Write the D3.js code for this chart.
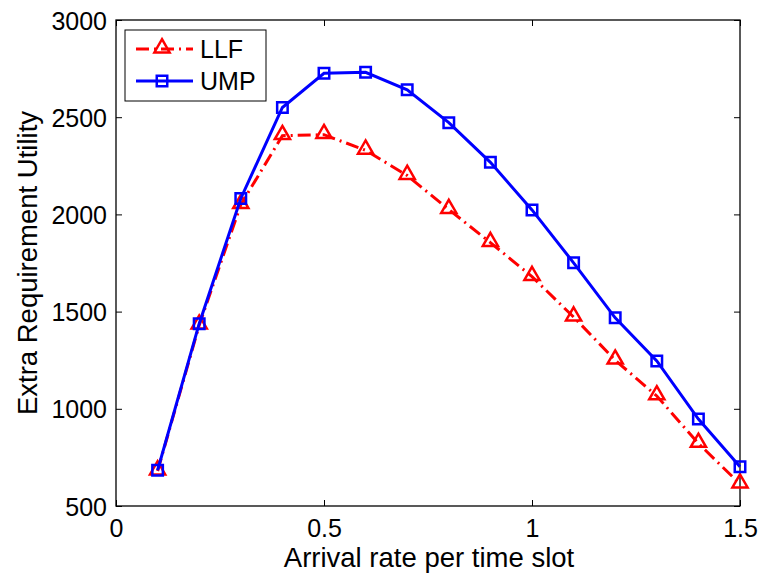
<!DOCTYPE html>
<html>
<head>
<meta charset="utf-8">
<script src="https://cdn.jsdelivr.net/npm/d3@7"></script>
<style>
  body { margin: 0; background: #fff; }
  text { font-family: "Liberation Sans", Arial, sans-serif; }
</style>
</head>
<body>
<div id="chart"></div>
<script>
// Data
var rates = [0.1, 0.2, 0.3, 0.4, 0.5, 0.6, 0.7, 0.8, 0.9, 1.0, 1.1, 1.2, 1.3, 1.4, 1.5];
var llf = [680, 1430, 2050, 2405, 2410, 2330, 2200, 2025, 1855, 1680, 1472, 1250, 1066, 822, 613];
var ump = [684, 1438, 2082, 2550, 2726, 2731, 2641, 2472, 2268, 2023, 1751, 1468, 1246, 947, 702];
var xTicks = [0, 0.5, 1, 1.5];
var yTicks = [500, 1000, 1500, 2000, 2500, 3000];
var seriesNames = ["LLF", "UMP"];

// Set the dimensions of the canvas
var W = 764, H = 573;
var margin = { top: 20, right: 24, bottom: 67, left: 116 },
    width = W - margin.left - margin.right,
    height = H - margin.top - margin.bottom;

var x = d3.scaleLinear().domain([0, 1.5]).range([0, width]);
var y = d3.scaleLinear().domain([500, 3000]).range([height, 0]);

var svg = d3.select("#chart").append("svg")
    .attr("width", W)
    .attr("height", H)
    .append("g")
    .attr("transform", "translate(" + margin.left + "," + margin.top + ")");

// Axes, MATLAB style: ticks inside on all four sides
var tickLen = 6;
svg.append("g")
    .attr("transform", "translate(0," + height + ")")
    .call(d3.axisBottom(x).tickValues(xTicks).tickSizeInner(-tickLen).tickSizeOuter(0)
        .tickFormat(function (d) { return d; }))
    .call(function (g) {
        g.selectAll("text").style("font-size", "25px").attr("fill", "#000")
            .attr("y", 31).attr("dy", 0);
    });
svg.append("g")
    .call(d3.axisTop(x).tickValues(xTicks).tickSizeInner(-tickLen).tickSizeOuter(0).tickFormat(""));
svg.append("g")
    .call(d3.axisLeft(y).tickValues(yTicks).tickSizeInner(-tickLen).tickSizeOuter(0)
        .tickFormat(function (d) { return d; }))
    .call(function (g) {
        g.selectAll("text").style("font-size", "25px").attr("fill", "#000")
            .attr("x", -9).attr("dy", "0.36em");
    });
svg.append("g")
    .attr("transform", "translate(" + width + ",0)")
    .call(d3.axisRight(y).tickValues(yTicks).tickSizeInner(-tickLen).tickSizeOuter(0).tickFormat(""));
svg.selectAll(".domain").remove();
svg.selectAll(".tick line").attr("stroke", "#000").attr("stroke-width", 1);

// Box
svg.append("rect")
    .attr("width", width).attr("height", height)
    .attr("fill", "none").attr("stroke", "#000").attr("stroke-width", 1.3);

// Axis labels
svg.append("text")
    .attr("x", (width / 2) + 1).attr("y", height + 61)
    .style("text-anchor", "middle").style("font-size", "27.5px")
    .text("Arrival rate per time slot");
svg.append("text")
    .attr("transform", "translate(-79," + (height / 2) + ") rotate(-90)")
    .style("text-anchor", "middle").style("font-size", "27.5px")
    .text("Extra Requirement Utility");

var line = d3.line()
    .x(function (d, i) { return x(rates[i]); })
    .y(function (d) { return y(d); });

var triangle = d3.symbol().type(d3.symbolTriangle).size(100);
var square = d3.symbol().type(d3.symbolSquare).size(110);

// LLF: red dash-dot with open triangles
svg.append("path").datum(llf)
    .attr("d", line)
    .attr("fill", "none").attr("stroke", "#ff0000").attr("stroke-width", 3)
    .attr("stroke-dasharray", "13,5,2,5");
svg.selectAll(".tri").data(llf).enter().append("path")
    .attr("class", "tri")
    .attr("transform", function (d, i) { return "translate(" + x(rates[i]) + "," + (y(d) - 1) + ")"; })
    .attr("d", triangle)
    .attr("fill", "none").attr("stroke", "#ff0000").attr("stroke-width", 2.5);

// UMP: blue solid with open squares
svg.append("path").datum(ump)
    .attr("d", line)
    .attr("fill", "none").attr("stroke", "#0000ff").attr("stroke-width", 3);
svg.selectAll(".sq").data(ump).enter().append("path")
    .attr("class", "sq")
    .attr("transform", function (d, i) { return "translate(" + x(rates[i]) + "," + y(d) + ")"; })
    .attr("d", square)
    .attr("fill", "none").attr("stroke", "#0000ff").attr("stroke-width", 2.5);

// Legend
var lg = svg.append("g").attr("transform", "translate(9,10)");
lg.append("rect")
    .attr("width", 141).attr("height", 71)
    .attr("fill", "#fff").attr("stroke", "#000").attr("stroke-width", 1);
var rows = [
    { name: seriesNames[0], color: "#ff0000", dash: "13,5,2,5", sym: triangle, dy: -1 },
    { name: seriesNames[1], color: "#0000ff", dash: null, sym: square, dy: 0 }
];
rows.forEach(function (r, i) {
    var yy = 19 + i * 32;
    lg.append("line")
        .attr("x1", 11).attr("x2", 68).attr("y1", yy).attr("y2", yy)
        .attr("stroke", r.color).attr("stroke-width", 3)
        .attr("stroke-dasharray", r.dash);
    lg.append("path")
        .attr("transform", "translate(37," + (yy + r.dy) + ")")
        .attr("d", r.sym)
        .attr("fill", "none").attr("stroke", r.color).attr("stroke-width", 2.5);
    lg.append("text")
        .attr("x", 75).attr("y", yy).attr("dy", "0.36em")
        .style("font-size", "25px")
        .text(r.name);
});
</script>
</body>
</html>
